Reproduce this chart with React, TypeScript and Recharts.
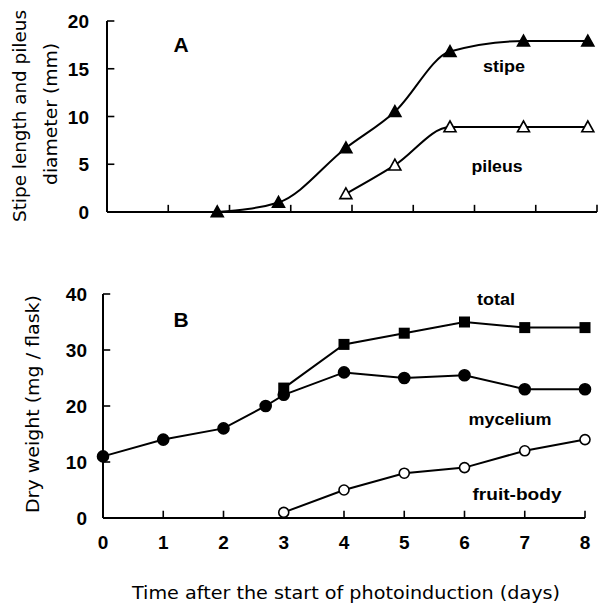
import React from "react";
import { LineChart, Line, XAxis, YAxis, ReferenceLine } from "recharts";

// panel A: stipe length and pileus diameter (mm)
const stipeDays = [1.8, 2.8, 3.9, 4.7, 5.6, 6.8, 7.85];
const stipeLength = [0, 1, 6.7, 10.5, 16.8, 17.9, 17.9];
const pileusDays = [3.9, 4.7, 5.6, 6.8, 7.85];
const pileusDiameter = [1.9, 4.9, 8.9, 8.9, 8.9];

// panel B: dry weight (mg / flask)
const myceliumDays = [0, 1, 2, 2.7, 3, 4, 5, 6, 7, 8];
const myceliumWeight = [11, 14, 16, 20, 22, 26, 25, 25.5, 23, 23];
const totalDays = [3, 4, 5, 6, 7, 8];
const totalWeight = [23.2, 31, 33, 35, 34, 34];
const fruitDays = [3, 4, 5, 6, 7, 8];
const fruitWeight = [1, 5, 8, 9, 12, 14];

const dayTicks = [0, 1, 2, 3, 4, 5, 6, 7, 8];
const ticksA = [0, 5, 10, 15, 20];
const ticksB = [0, 10, 20, 30, 40];

const zip = (xs: number[], ys: number[]) => xs.map((x, i) => ({ x, y: ys[i] }));

const FONT = "'Liberation Sans', Arial, sans-serif";
const TITLE_FONT = "'DejaVu Sans', sans-serif";
const axisLine = { stroke: "#000", strokeWidth: 2 };

const bottomLabel = (p: any) => {
  const { x, y, payload, index } = p;
  return (
    <text key={index} x={x} y={y + 31} textAnchor="middle" fontSize={19} fontWeight="bold" fontFamily={FONT} fill="#000">
      {payload.value}
    </text>
  );
};

const leftLabel = (gap: number) => (p: any) => {
  const { x, y, payload, index } = p;
  return (
    <text key={index} x={x - gap} y={y + 7} textAnchor="end" fontSize={19} fontWeight="bold" fontFamily={FONT} fill="#000">
      {payload.value}
    </text>
  );
};

// inward tick marks, drawn through the chart scales (length given in data units)
const innerTicks = (xTicks: number[], yTicks: number[], xLen: number, yLen: number) => [
  ...xTicks.map((d) => (
    <ReferenceLine
      key={`xt${d}`}
      segment={[{ x: d, y: 0 }, { x: d, y: yLen }]}
      stroke="#000"
      strokeWidth={1.6}
      ifOverflow="visible"
    />
  )),
  ...yTicks.map((v) => (
    <ReferenceLine
      key={`yt${v}`}
      segment={[{ x: 0, y: v }, { x: xLen, y: v }]}
      stroke="#000"
      strokeWidth={1.6}
      ifOverflow="visible"
    />
  )),
];

const triangle = (filled: boolean) => (p: any) => {
  const { cx, cy, index } = p;
  if (cx == null || cy == null) return <g key={index} />;
  const s = 6;
  return (
    <polygon
      key={index}
      points={`${cx},${cy - s} ${cx - s},${cy + s * 0.8} ${cx + s},${cy + s * 0.8}`}
      fill={filled ? "#000" : "#fff"}
      stroke="#000"
      strokeWidth={1.6}
    />
  );
};

const circle = (filled: boolean) => (p: any) => {
  const { cx, cy, index } = p;
  if (cx == null || cy == null) return <g key={index} />;
  return (
    <circle
      key={index}
      cx={cx}
      cy={cy}
      r={filled ? 5.5 : 5}
      fill={filled ? "#000" : "#fff"}
      stroke="#000"
      strokeWidth={1.6}
    />
  );
};

const square = (p: any) => {
  const { cx, cy, index } = p;
  if (cx == null || cy == null) return <g key={index} />;
  return <rect key={index} x={cx - 5.5} y={cy - 5.5} width={11} height={11} fill="#000" />;
};

export default function App() {
  return (
    <div style={{ position: "absolute", left: 0, top: 0, width: 599, height: 607, background: "#fff" }}>
      <div style={{ position: "absolute", left: 0, top: 0 }}>
        <LineChart width={599} height={240} margin={{ top: 21, right: 2, bottom: 8, left: 57 }}>
          <XAxis
            type="number"
            dataKey="x"
            domain={[0, 8]}
            ticks={dayTicks}
            height={20}
            axisLine={axisLine}
            tickLine={false}
            tick={false}
          />
          <YAxis
            type="number"
            dataKey="y"
            domain={[0, 20]}
            ticks={ticksA}
            width={50}
            axisLine={axisLine}
            tickLine={false}
            tickSize={0}
            tickMargin={0}
            tick={leftLabel(18)}
            interval={0}
          />
          {innerTicks(dayTicks.slice(1), ticksA.slice(1), 0.12, 0.75)}
          <Line
            data={zip(stipeDays, stipeLength)}
            dataKey="y"
            type="monotone"
            stroke="#000"
            strokeWidth={2}
            dot={triangle(true)}
            isAnimationActive={false}
          />
          <Line
            data={zip(pileusDays, pileusDiameter)}
            dataKey="y"
            type="monotone"
            stroke="#000"
            strokeWidth={2}
            dot={triangle(false)}
            isAnimationActive={false}
          />
        </LineChart>
      </div>
      <div style={{ position: "absolute", left: 0, top: 250 }}>
        <LineChart width={599} height={357} margin={{ top: 44, right: 14, bottom: 39, left: 53 }}>
          <XAxis
            type="number"
            dataKey="x"
            domain={[0, 8]}
            ticks={dayTicks}
            height={50}
            axisLine={axisLine}
            tickLine={false}
            tickSize={0}
            tickMargin={0}
            tick={bottomLabel}
            interval={0}
          />
          <YAxis
            type="number"
            dataKey="y"
            domain={[0, 40]}
            ticks={ticksB}
            width={50}
            axisLine={axisLine}
            tickLine={false}
            tickSize={0}
            tickMargin={0}
            tick={leftLabel(16)}
            interval={0}
          />
          {innerTicks(dayTicks.slice(1), ticksB.slice(1), 0.12, 1.3)}
          <Line
            data={zip(myceliumDays, myceliumWeight)}
            dataKey="y"
            type="linear"
            stroke="#000"
            strokeWidth={2}
            dot={circle(true)}
            isAnimationActive={false}
          />
          <Line
            data={zip(totalDays, totalWeight)}
            dataKey="y"
            type="linear"
            stroke="#000"
            strokeWidth={2}
            dot={square}
            isAnimationActive={false}
          />
          <Line
            data={zip(fruitDays, fruitWeight)}
            dataKey="y"
            type="linear"
            stroke="#000"
            strokeWidth={2}
            dot={circle(false)}
            isAnimationActive={false}
          />
        </LineChart>
      </div>
      <svg
        width={599}
        height={607}
        style={{ position: "absolute", left: 0, top: 0, pointerEvents: "none" }}
        fontFamily={TITLE_FONT}
      >
        <text x={20} y={116} transform="rotate(-90 20 116)" textAnchor="middle" dy="0.35em" fontSize={17} textLength={212} lengthAdjust="spacingAndGlyphs">
          Stipe length and pileus
        </text>
        <text x={51} y={114} transform="rotate(-90 51 114)" textAnchor="middle" dy="0.35em" fontSize={17} textLength={142} lengthAdjust="spacingAndGlyphs">
          diameter (mm)
        </text>
        <text x={33} y={404} transform="rotate(-90 33 404)" textAnchor="middle" dy="0.35em" fontSize={18} textLength={218} lengthAdjust="spacingAndGlyphs">
          Dry weight (mg / flask)
        </text>
        <text x={346} y={599} textAnchor="middle" fontSize={17} textLength={428} lengthAdjust="spacingAndGlyphs">
          Time after the start of photoinduction (days)
        </text>
        <g fontFamily={FONT} fontWeight="bold">
          <text x={181} y={52} textAnchor="middle" fontSize={21}>A</text>
          <text x={181} y={327} textAnchor="middle" fontSize={21}>B</text>
          <text x={504} y={72} textAnchor="middle" fontSize={16} textLength={42} lengthAdjust="spacingAndGlyphs">stipe</text>
          <text x={497} y={172} textAnchor="middle" fontSize={16} textLength={51} lengthAdjust="spacingAndGlyphs">pileus</text>
          <text x={496} y={305} textAnchor="middle" fontSize={16} textLength={38} lengthAdjust="spacingAndGlyphs">total</text>
          <text x={510} y={425} textAnchor="middle" fontSize={16} textLength={83} lengthAdjust="spacingAndGlyphs">mycelium</text>
          <text x={517} y={500} textAnchor="middle" fontSize={16} textLength={89} lengthAdjust="spacingAndGlyphs">fruit-body</text>
        </g>
      </svg>
    </div>
  );
}
